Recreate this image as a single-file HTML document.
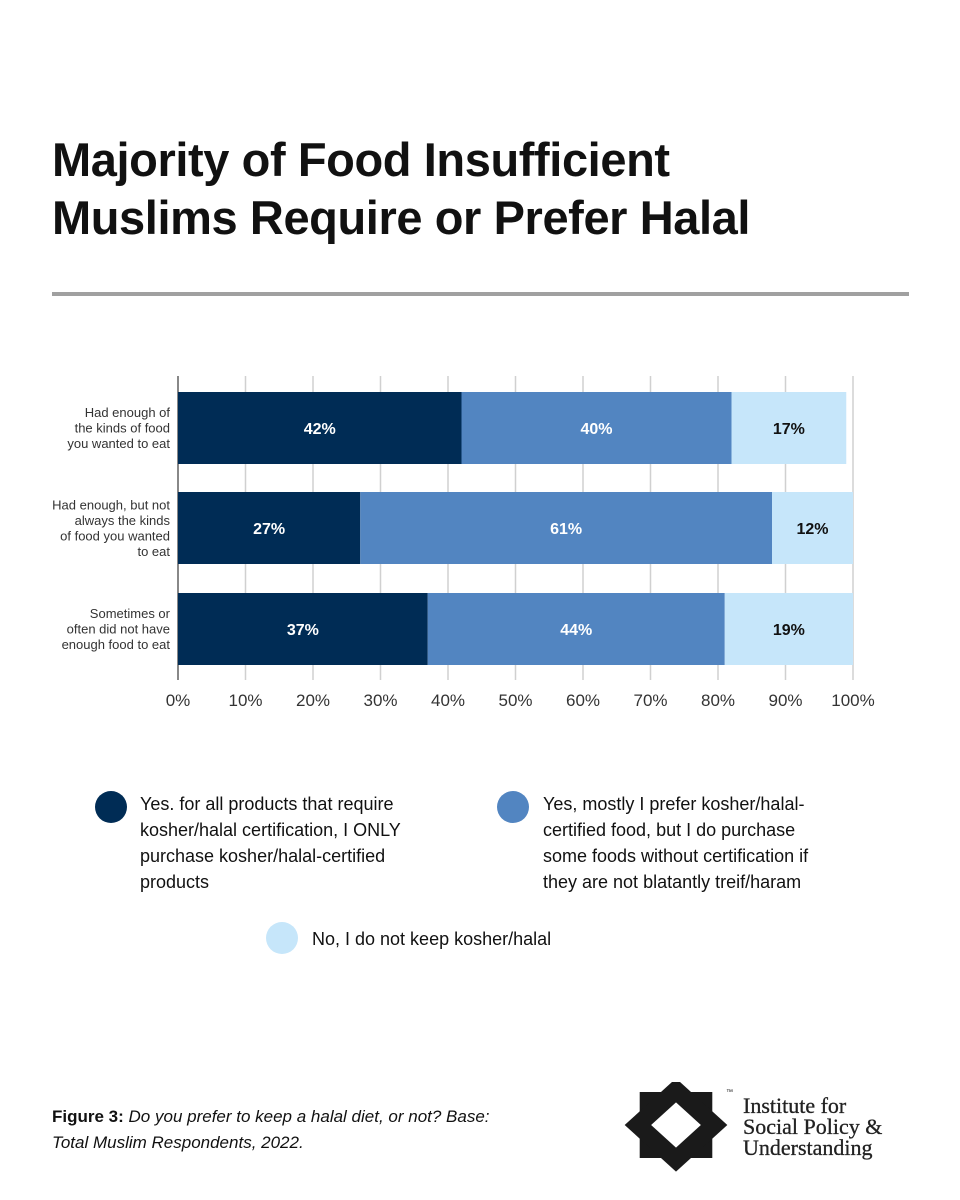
<!DOCTYPE html>
<html><head><meta charset="utf-8">
<style>
body{margin:0;background:#fff;}
#root{position:relative;width:960px;height:1200px;background:#fff;font-family:"Liberation Sans",sans-serif;overflow:hidden;}
h1{position:absolute;left:52px;top:131px;margin:0;font-size:47px;line-height:58px;font-weight:bold;color:#111;letter-spacing:-0.4px;}
.rule{position:absolute;left:52px;top:292px;width:857px;height:4px;background:#a0a0a0;}
.leg{position:absolute;font-size:18px;line-height:26px;color:#111;}
.dot{position:absolute;width:32px;height:32px;border-radius:50%;}
.cap{position:absolute;left:52px;top:1104px;font-size:17px;line-height:26px;color:#111;}
.org{position:absolute;left:743px;top:1095px;font-family:"Liberation Serif",serif;font-size:22px;line-height:21px;color:#222;-webkit-text-stroke:0.3px #222;}
</style></head><body>
<div id="root">
<h1>Majority of Food Insufficient<br>Muslims Require or Prefer Halal</h1>
<div class="rule"></div>
<svg id="chart" width="960" height="720" style="position:absolute;left:0;top:0"></svg>
<div class="dot" style="left:95px;top:791px;background:#002c55"></div>
<div class="leg" style="left:140px;top:791px">Yes. for all products that require<br>kosher/halal certification, I ONLY<br>purchase kosher/halal-certified<br>products</div>
<div class="dot" style="left:497px;top:791px;background:#5285c1"></div>
<div class="leg" style="left:543px;top:791px">Yes, mostly I prefer kosher/halal-<br>certified food, but I do purchase<br>some foods without certification if<br>they are not blatantly treif/haram</div>
<div class="dot" style="left:266px;top:922px;background:#c6e6fa"></div>
<div class="leg" style="left:312px;top:926px">No, I do not keep kosher/halal</div>
<div class="cap"><b>Figure 3:</b> <i>Do you prefer to keep a halal diet, or not? Base:<br>Total Muslim Respondents, 2022.</i></div>
<svg width="124" height="90" style="position:absolute;left:618px;top:1082px">
<g transform="translate(58,43) scale(1.1,1)">
<rect x="-33" y="-33" width="66" height="66" fill="#1a1a1a"/>
<rect x="-33" y="-33" width="66" height="66" fill="#1a1a1a" transform="rotate(45)"/>
<rect x="-16" y="-16" width="32" height="32" fill="#fff" transform="rotate(45)"/>
</g>
<text x="108" y="12" font-size="7" fill="#222">™</text>
</svg>
<div class="org">Institute for<br>Social Policy &amp;<br>Understanding</div>
</div>
<script>
const categories=[["Had enough of","the kinds of food","you wanted to eat"],["Had enough, but not","always the kinds","of food you wanted","to eat"],["Sometimes or","often did not have","enough food to eat"]];
const onlyVals=[42,27,37];
const mostlyVals=[40,61,44];
const noVals=[17,12,19];
const tickVals=[0,10,20,30,40,50,60,70,80,90,100];
const svg=document.getElementById('chart');
const NS='http://www.w3.org/2000/svg';
const x0=178,x1=853,top0=376,bot=680;
const X=v=>x0+(x1-x0)*v/100;
const rowY=[392,492,593],barH=72;
function mk(t,a){const e=document.createElementNS(NS,t);for(const k in a)e.setAttribute(k,a[k]);svg.appendChild(e);return e;}
tickVals.forEach((t,i)=>{
 const g=mk('line',{x1:X(t),x2:X(t),y1:top0,y2:bot,stroke:t===0?'#888':'#d0d0d0','stroke-width':t===0?2:1.5});
 
 
 const l=mk('text',{x:X(t),y:706,'text-anchor':'middle','font-size':17,fill:'#333','font-family':'Liberation Sans, sans-serif'});
 l.textContent=t+'%';
 
 
});
const series=[[onlyVals,'#002c55','#fff','only'],[mostlyVals,'#5285c1','#fff','mostly'],[noVals,'#c6e6fa','#111','no']];
categories.forEach((c,i)=>{
 let acc=0;const y=rowY[i];
 series.forEach(s=>{
  const v=s[0][i];
  const r=mk('rect',{x:X(acc),y:y,width:X(acc+v)-X(acc),height:barH,fill:s[1]});
  
  
  const t=mk('text',{x:(X(acc)+X(acc+v))/2,y:y+barH/2+6,'text-anchor':'middle','font-size':16,'font-weight':'bold',fill:s[2],'font-family':'Liberation Sans, sans-serif'});
  t.textContent=v+'%';
  
  
  acc+=v;
 });
 const n=c.length,lh=15.5,cy=y+barH/2;
 c.forEach((ln,j)=>{
  const t=mk('text',{x:170,y:cy-(n-1)*lh/2+j*lh+4.5,'text-anchor':'end','font-size':13,fill:'#333','font-family':'Liberation Sans, sans-serif'});
  t.textContent=ln;
  
  
 });
});
</script>
</body></html>
